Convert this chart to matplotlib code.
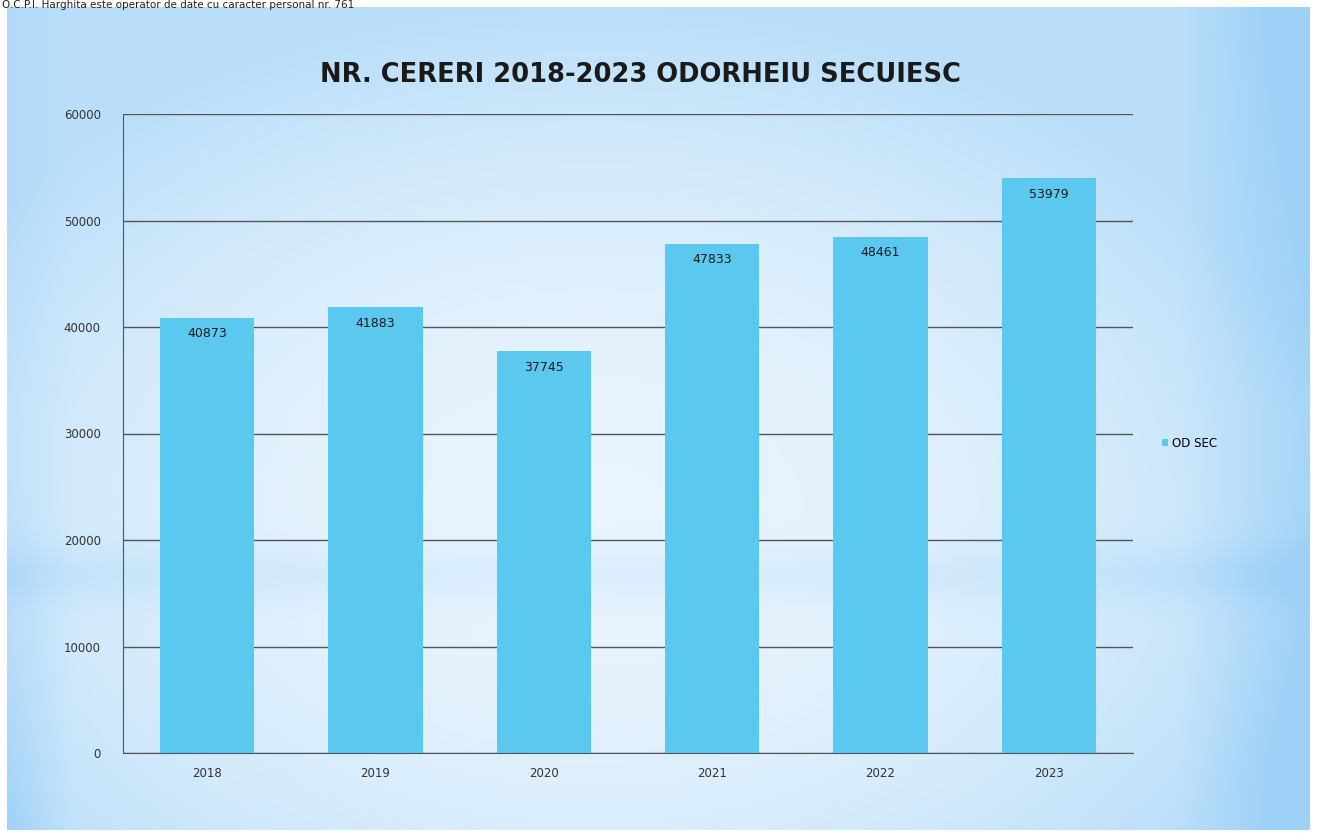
import matplotlib.pyplot as plt
import numpy as np

years = ['2018', '2019', '2020', '2021', '2022', '2023']
cereri = [40873, 41883, 37745, 47833, 48461, 53979]
yticks = [0, 10000, 20000, 30000, 40000, 50000, 60000]

fig = plt.figure(figsize=(13.17, 8.35), dpi=100)
W, H = 1317, 835

# slide background: pale blue, whiter in the middle, stronger blue at the sides
bg = fig.add_axes([7 / W, 5 / H, 1303 / W, 823 / H])
gx, gy = np.meshgrid(np.linspace(-1, 1, 400), np.linspace(-1, 1, 300))
r = np.sqrt(((gx + 0.1) / 1.15) ** 2 + ((gy + 0.25) / 1.25) ** 2)
t = 0.2 + 0.5 * np.clip(r, 0, 1) ** 2
right = np.clip(gx - 0.8, 0, 1) / 0.2 * (0.5 + 0.5 * np.abs(gy))
left = np.clip(-gx - 0.9, 0, 1) / 0.1 * (0.3 + 0.7 * np.clip(-gy, 0, 1))
t = t + 0.45 * right + 0.3 * left
band = np.exp(-((gy + 0.38) / 0.07) ** 2) * 0.15
t = np.clip(t + band, 0, 1)
c0 = np.array([0.99, 0.995, 1.0])
c1 = np.array([0.62, 0.82, 0.97])
img = c0 + (c1 - c0) * t[..., None]
bg.imshow(img, aspect='auto', extent=[0, 1, 0, 1], origin='lower')
bg.axis('off')

fig.text(2 / W, 1 - 0.5 / H, 'O.C.P.I. Harghita este operator de date cu caracter personal nr. 761',
         ha='left', va='top', fontsize=7.5, color='#222222')

ax = fig.add_axes([123 / W, 1 - 753 / H, 1010 / W, 639 / H])
ax.patch.set_alpha(0)
x = np.arange(len(years))
ax.bar(x, cereri, width=0.56, color='#5bc8ef', label='OD SEC', zorder=2)
for xi, v in zip(x, cereri):
    ax.text(xi, v - 900, str(v), ha='center', va='top', fontsize=9, color='#1a1a1a', zorder=3)

ax.set_xlim(-0.5, len(years) - 0.5)
ax.set_ylim(0, 60000)
ax.set_yticks(yticks)
ax.set_yticklabels([str(v) for v in yticks])
ax.set_xticks(x)
ax.set_xticklabels(years)
ax.tick_params(axis='both', length=0, labelsize=8.5, colors='#333333')
ax.tick_params(axis='y', pad=16)
ax.tick_params(axis='x', pad=10)
ax.yaxis.grid(True, color='#555555', linewidth=1.0, zorder=1)
for s in ['top', 'right']:
    ax.spines[s].set_visible(False)
ax.spines['left'].set_color('#555555')
ax.spines['bottom'].set_color('#555555')

ax.set_title('NR. CERERI 2018-2023 ODORHEIU SECUIESC', fontsize=18.5, fontweight='bold',
             color='#1a1a1a', pad=23, x=0.5 + 12 / 1010)

ax.legend(loc='center left', bbox_to_anchor=(1.018, 0.485), frameon=False, fontsize=8.5,
          handlelength=0.5, handleheight=0.5, handletextpad=0.4)

fig.savefig('out.png', dpi=100)
